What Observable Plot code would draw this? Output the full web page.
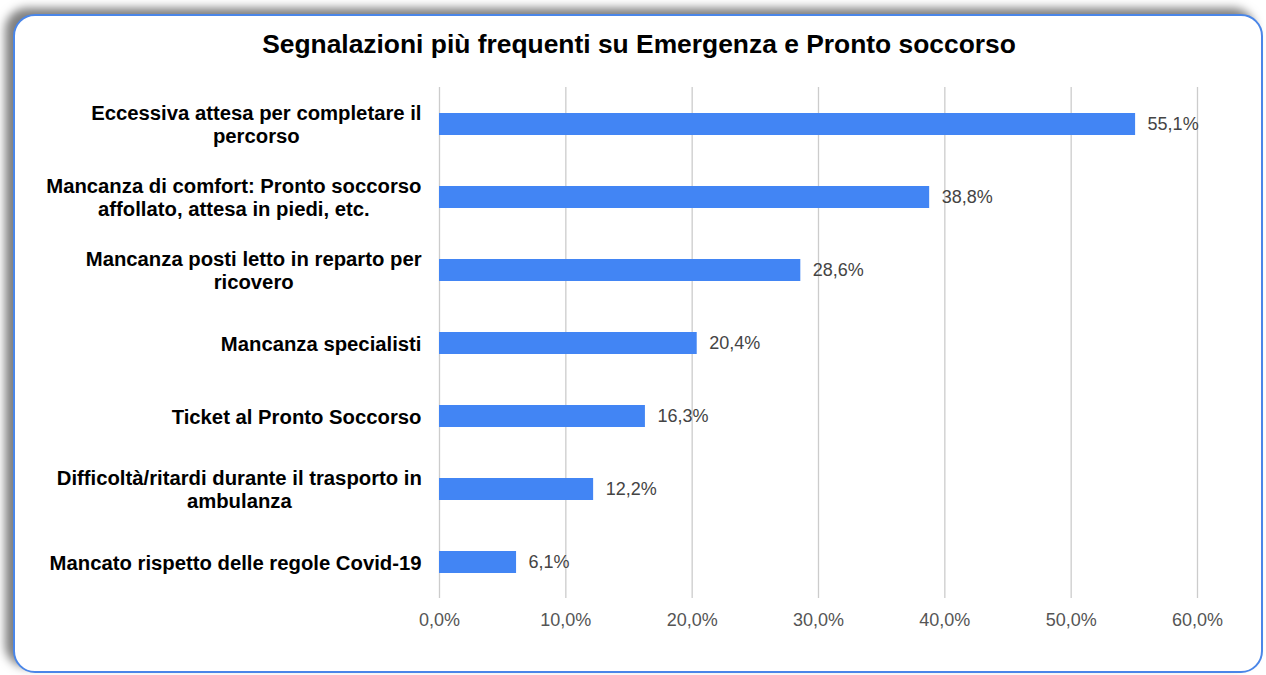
<!DOCTYPE html>
<html>
<head>
<meta charset="utf-8">
<script src="https://cdn.jsdelivr.net/npm/d3@7"></script>
<script src="https://cdn.jsdelivr.net/npm/@observablehq/plot@0.6"></script>
<style>
  html, body { margin: 0; padding: 0; background: #fff; width: 1266px; height: 675px; overflow: hidden; }
  #frame {
    position: absolute; left: 13px; top: 14px; width: 1246px; height: 655px;
    border: 2px solid #4a86e8; border-radius: 22px; background: #fff;
    box-shadow: -8px -6px 10px rgba(0,0,0,0.5);
  }
  #title {
    position: absolute; left: 0; width: 1278px; top: 29px; text-align: center;
    font-family: "Liberation Sans", Arial, sans-serif; font-weight: bold; font-size: 26.4px; color: #000;
  }
  #chart { position: absolute; left: 0; top: 0; }
</style>
</head>
<body>
<div id="frame"></div>
<div id="title">Segnalazioni più frequenti su Emergenza e Pronto soccorso</div>
<div id="chart"></div>
<script>
const categories = [
  "Eccessiva attesa per completare il\npercorso",
  "Mancanza di comfort: Pronto soccorso\naffollato, attesa in piedi, etc.",
  "Mancanza posti letto in reparto per\nricovero",
  "Mancanza specialisti",
  "Ticket al Pronto Soccorso",
  "Difficoltà/ritardi durante il trasporto in\nambulanza",
  "Mancato rispetto delle regole Covid-19"
];
const values = [55.1, 38.8, 28.6, 20.4, 16.3, 12.2, 6.1];
const xTicks = [0, 10, 20, 30, 40, 50, 60];

const data = categories.map((c, i) => ({category: c, value: values[i]}));
const fmt = v => v.toFixed(1).replace(".", ",") + "%";

const chart = Plot.plot({
  width: 1266,
  height: 675,
  marginLeft: 439,
  marginRight: 69,
  marginTop: 87,
  marginBottom: 77,
  style: {background: "transparent", fontFamily: "Liberation Sans, Arial, sans-serif"},
  x: {domain: [0, 60], ticks: xTicks, tickFormat: fmt, label: null},
  y: {domain: categories, paddingInner: 0.7, paddingOuter: 0.35, label: null},
  marks: [
    Plot.gridX(xTicks, {stroke: "#cccccc", strokeOpacity: 1, strokeWidth: 1.3}),
    Plot.barX(data, {x: "value", y: "category", fill: "#4285f4"}),
    Plot.text(data, {x: "value", y: "category", text: d => fmt(d.value), textAnchor: "start", dx: 12, fill: "#444", fontSize: 18}),
    Plot.axisX({ticks: xTicks, tickFormat: fmt, tickSize: 0, tickPadding: 15, fontSize: 18, color: "#555", label: null}),
    Plot.axisY({tickSize: 0, tickPadding: 18, fontSize: 20.3, fontWeight: "bold", color: "#000", lineHeight: 1.13, label: null, textAnchor: "end"})
  ]
});
document.getElementById("chart").appendChild(chart);

// center lines of multi-line y labels within their block, keeping the block right-aligned
chart.querySelectorAll('[aria-label="y-axis tick label"] text').forEach(t => {
  const tspans = t.querySelectorAll("tspan");
  if (tspans.length < 2) return;
  const bb = t.getBBox();
  t.setAttribute("text-anchor", "middle");
  t.style.textAnchor = "middle";
  const cx = bb.x + bb.width / 2;
  tspans.forEach(s => s.setAttribute("x", cx));
});
</script>
</body>
</html>
